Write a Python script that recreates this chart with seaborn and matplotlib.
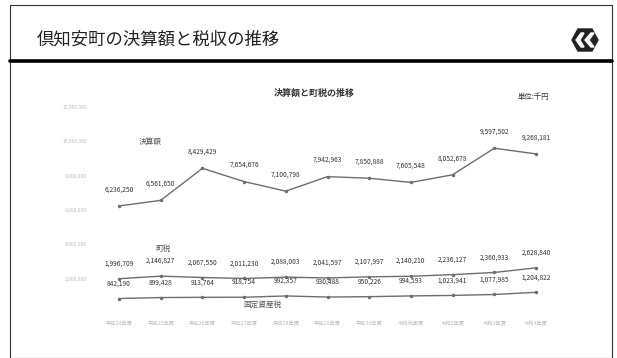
import matplotlib
matplotlib.use("Agg")
import matplotlib.pyplot as plt
import seaborn as sns
import pandas as pd
from matplotlib.patches import Rectangle, Polygon
from matplotlib.lines import Line2D

sns.set_theme(style="white")
plt.rcParams['font.family'] = ['Noto Sans CJK JP', 'DejaVu Sans']

years = ["平成24年度", "平成25年度", "平成26年度", "平成27年度", "平成28年度", "平成29年度",
         "平成30年度", "令和元年度", "令和2年度", "令和3年度", "令和4年度"]
kessan = [6236250, 6561650, 8429429, 7654676, 7100798, 7942963, 7850888, 7605548, 8052678, 9597502, 9268181]
chozei = [1996709, 2146827, 2067550, 2011230, 2088003, 2041597, 2107997, 2140210, 2236127, 2360933, 2628840]
kotei = [842190, 899428, 913764, 918754, 992357, 930488, 950226, 994593, 1023941, 1077985, 1204822]
series_names = ["決算額", "町税", "固定資産税"]
yticks = [2000000, 4000000, 6000000, 8000000, 10000000, 12000000]

W, H = 617, 358
fig = plt.figure(figsize=(W / 100, H / 100), dpi=100)
fig.patch.set_facecolor("white")

def fx(px):
    return px / W

def fy(py):
    return 1 - py / H

# slide frame
fig.add_artist(Rectangle((fx(10), fy(358)), fx(602), fy(5) - fy(358), transform=fig.transFigure,
                         fill=False, edgecolor="#333333", linewidth=0.8))
fig.add_artist(Line2D([fx(10), fx(612)], [fy(60.5), fy(60.5)], transform=fig.transFigure,
                      color="black", linewidth=2.6))
fig.text(fx(37), fy(40), "倶知安町の決算額と税収の推移", fontsize=12.5, color="#222222",
         va="center", ha="left")

# logo
cx, cy = fx(585), fy(40)
sx, sy = 1 / W, 1 / H
hexpts = [(-13, 0), (-7, -11), (7, -11), (13, 0), (7, 11), (-7, 11)]
fig.add_artist(Polygon([(cx + a * sx, cy + b * sy) for a, b in hexpts], closed=True,
                       transform=fig.transFigure, facecolor="#222222", edgecolor="#222222"))
inner = [(-9, 0), (-4, -7), (-1, -7), (-5, 0), (-1, 7), (-4, 7)]
fig.add_artist(Polygon([(cx + a * sx, cy + b * sy) for a, b in inner], closed=True,
                       transform=fig.transFigure, facecolor="white", edgecolor="white"))
inner2 = [(0, 0), (6, -7), (9, -7), (4, 0), (9, 7), (6, 7)]
fig.add_artist(Polygon([(cx + a * sx, cy + b * sy) for a, b in inner2], closed=True,
                       transform=fig.transFigure, facecolor="white", edgecolor="white"))

# chart axes
left_px, right_px = 94, 561
top_px, bot_px = 107, 313
ax = fig.add_axes([fx(left_px), fy(bot_px), fx(right_px - left_px), fy(top_px) - fy(bot_px)])
ax.set_facecolor("white")

idx = list(range(len(years)))
df = pd.DataFrame({
    "idx": idx * 3,
    "value": kessan + chozei + kotei,
    "series": [series_names[0]] * len(idx) + [series_names[1]] * len(idx) + [series_names[2]] * len(idx),
})
sns.lineplot(data=df, x="idx", y="value", hue="series",
             palette={n: "#6e6e6e" for n in series_names},
             marker="o", markersize=2.5, markeredgewidth=0, linewidth=1.0, legend=False, ax=ax)

for vals, off in [(kessan, 9), (chozei, 8), (kotei, 8)]:
    for i, v in enumerate(vals):
        ax.annotate(f"{v:,}", (i, v), xytext=(0, off), textcoords="offset points",
                    ha="center", va="bottom", fontsize=4.8, color="#333333")

ax.set_xlim(-0.6, len(years) - 0.4)
ax.set_ylim(0, 12000000)
ax.set_yticks(yticks)
ax.set_yticklabels([f"{t:,}" for t in yticks], fontsize=3.5, color="#bbbbbb")
ax.set_xticks(idx)
ax.set_xticklabels(years, fontsize=3.8, color="#bbbbbb")
ax.tick_params(axis="both", length=0, pad=6)
ax.tick_params(axis="y", pad=5)
for s in ax.spines.values():
    s.set_visible(False)
ax.set_xlabel("")
ax.set_ylabel("")

# chart texts
fig.text(fx(314), fy(93), "決算額と町税の推移", fontsize=6.5, fontweight="bold",
         color="#333333", ha="center", va="center")
fig.text(fx(533), fy(97), "単位:千円", fontsize=5.3, color="#333333", ha="center", va="center")
fig.text(fx(150), fy(142), series_names[0], fontsize=5.5, color="#555555", ha="center", va="center")
fig.text(fx(163), fy(249), series_names[1], fontsize=5.5, color="#555555", ha="center", va="center")
fig.text(fx(262), fy(305), series_names[2], fontsize=5.5, color="#555555", ha="center", va="center")

fig.savefig("out.png", dpi=100, facecolor="white")
